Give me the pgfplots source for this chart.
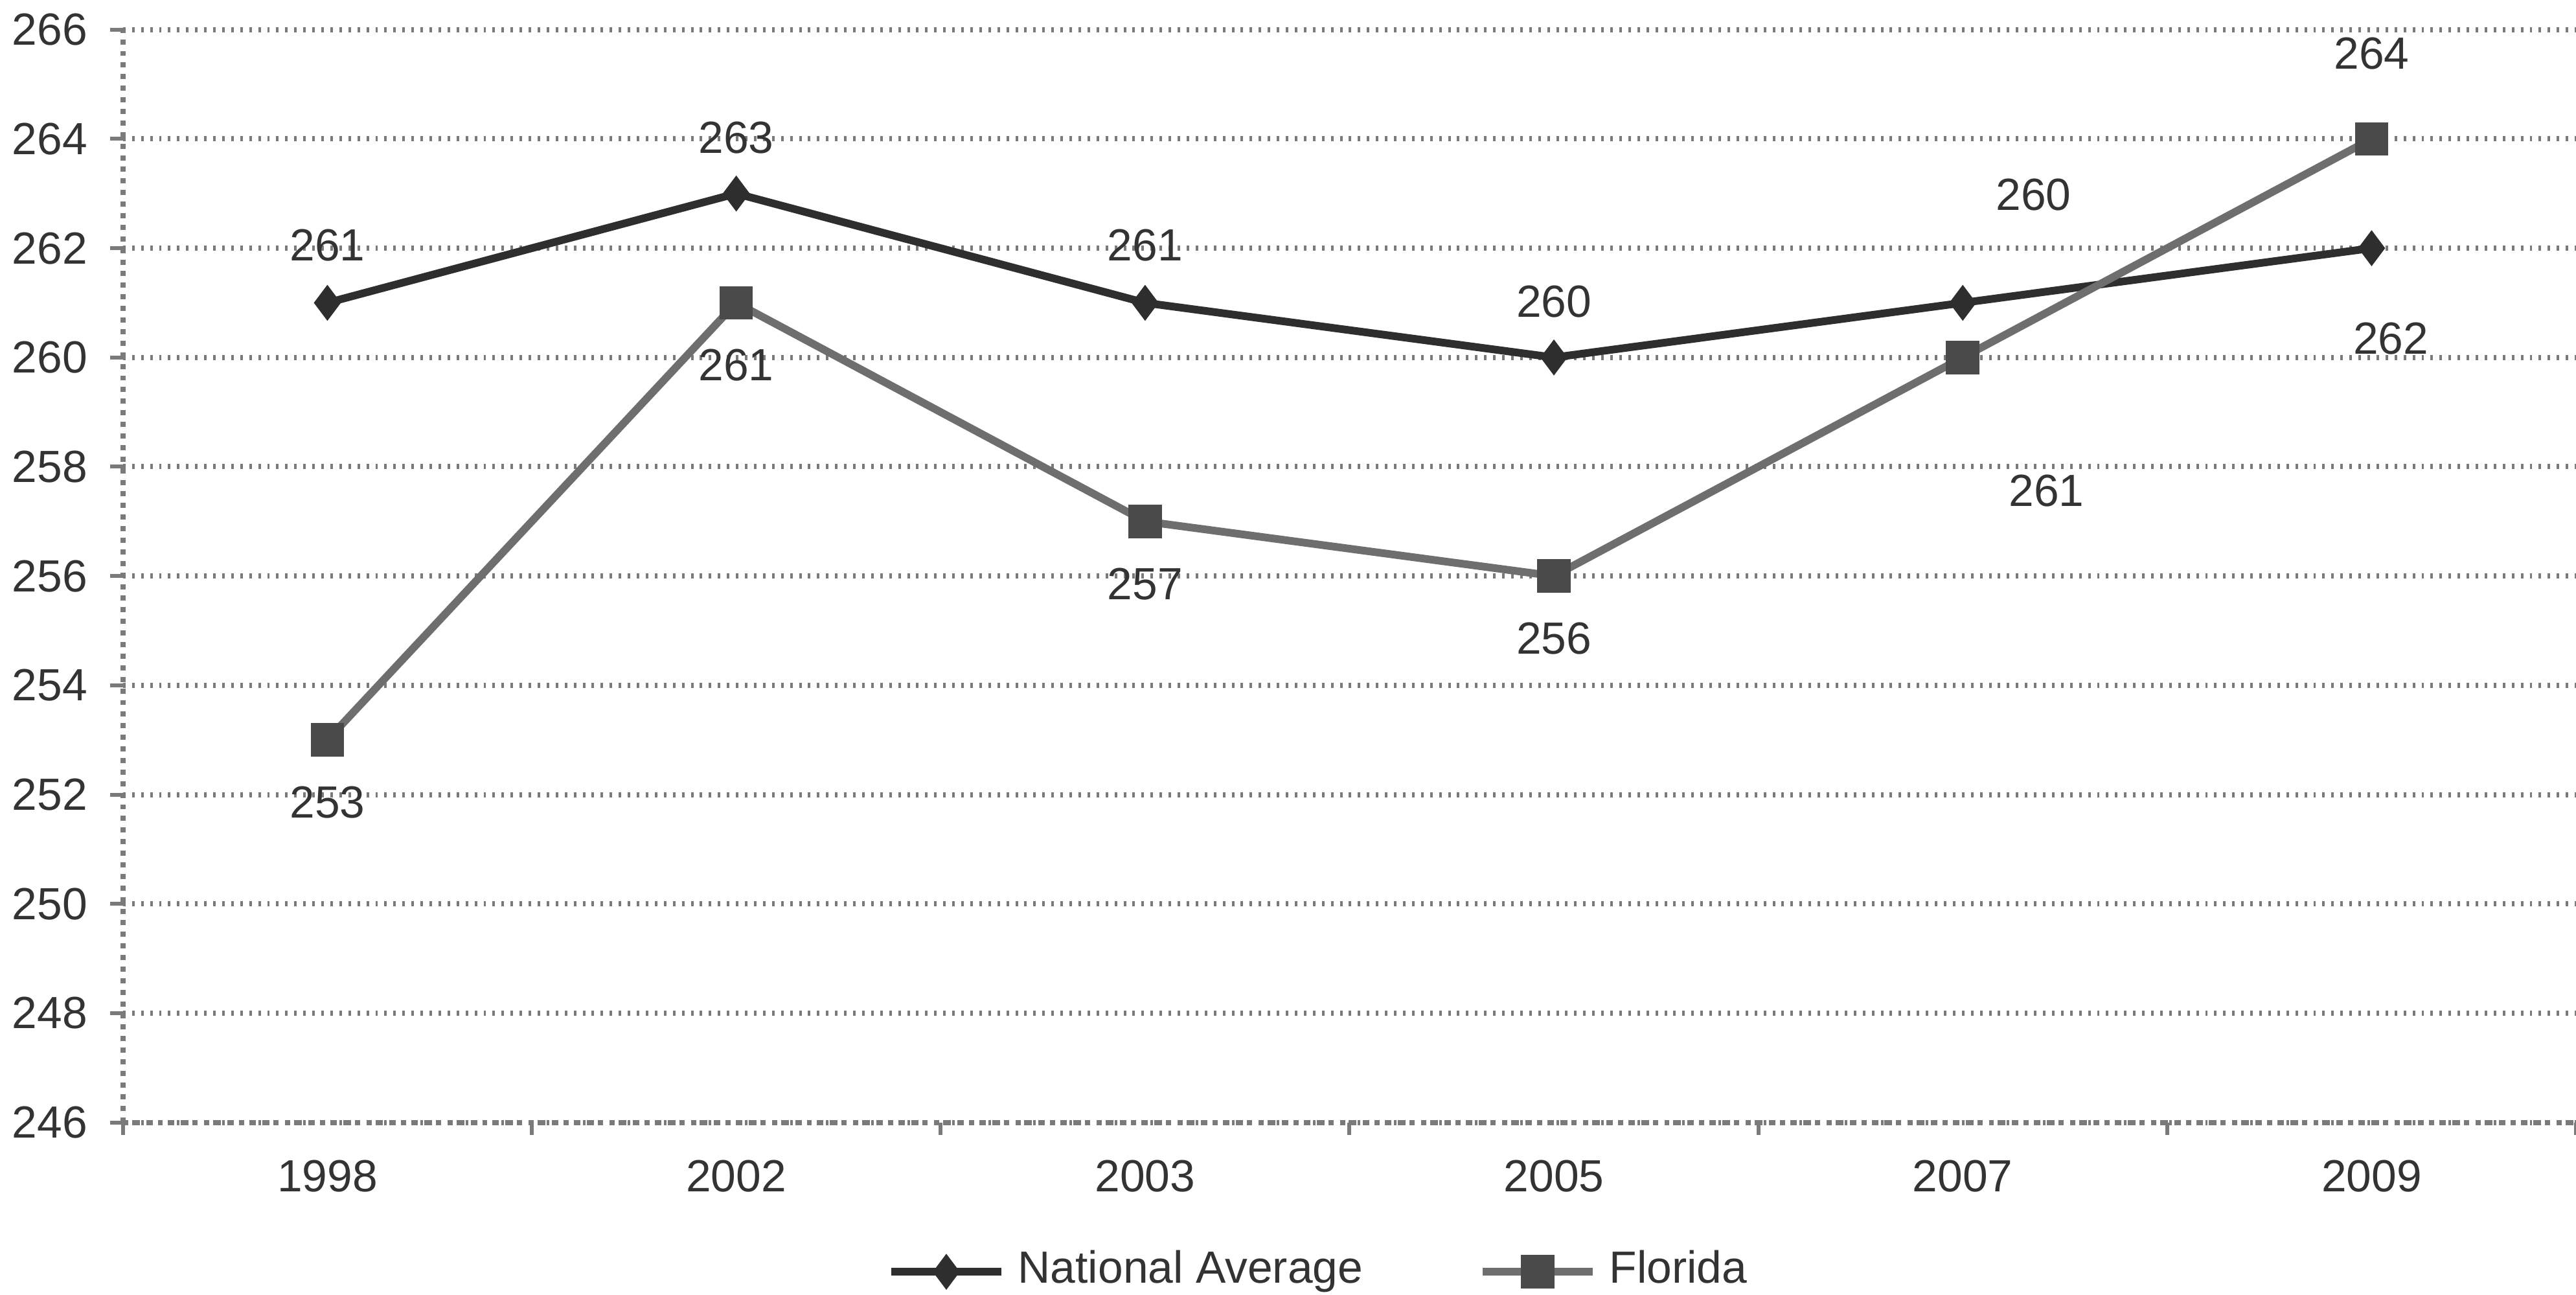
\documentclass[border=0pt]{standalone}
\usepackage{pgfplots}
\pgfplotsset{compat=1.18}
\usepackage{fontspec}
\setmainfont{Liberation Sans}
\definecolor{natc}{HTML}{2E2E2E}
\definecolor{flc}{HTML}{6E6E6E}
\definecolor{flm}{HTML}{4A4A4A}
\definecolor{grd}{HTML}{7A7A7A}
\definecolor{txt}{HTML}{333333}
\pgfplotstableread{
x y lab dx dy
0 261 261 0 8.9
1 263 263 0 8.7
2 261 261 0 8.9
3 260 260 0 8.7
4 261 260 11 16.8
5 262 262 3 -14
}\national
\pgfplotstableread{
x y lab dx dy
0 253 253 0 -9.7
1 261 261 0 -9.7
2 257 257 0 -9.7
3 256 256 0 -9.7
4 260 261 13 -20.7
5 264 264 0 13.3
}\florida
\begin{document}
\begin{tikzpicture}
\begin{axis}[
  scale only axis, width=381pt, height=169.7pt,
  xmin=-0.5, xmax=5.5, ymin=246, ymax=266,
  ytick={246,248,...,266},
  xtick={-0.5,0.5,...,5.5},
  x tick label as interval,
  xticklabels={1998,2002,2003,2005,2007,2009},
  /pgf/number format/assume math mode=true,
  axis x line*=bottom, axis y line*=left,
  axis line style={grd, densely dotted, line width=0.8pt, -},
  ymajorgrids, major grid style={grd, densely dotted, line width=0.8pt},
  tick align=outside, major tick length=2pt,
  tick style={grd, line width=0.6pt},
  tick label style={font=\fontsize{7}{8}\selectfont, text=txt},
  xticklabel style={yshift=-0.3pt},
  yticklabel style={xshift=0pt},
  legend style={draw=none, fill=none, at={(0.5,0)}, anchor=center, yshift=-23.2pt, xshift=-4pt,
    legend columns=2, font=\fontsize{7}{8}\selectfont, text=txt,
    /tikz/every even column/.append style={column sep=16pt}},
  clip=false,
]
\addplot[natc, line width=1.2pt, mark=diamond*, mark size=1.8pt, mark options={solid, fill=natc},
  nodes near coords, point meta=explicit symbolic,
  visualization depends on={\thisrow{dx}\as\dx},
  visualization depends on={\thisrow{dy}\as\dy},
  every node near coord/.append style={anchor=center, xshift=\dx pt, yshift=\dy pt,
    font=\fontsize{7}{8}\selectfont, text=txt}]
  table[x=x, y=y, meta=lab] {\national};
\addlegendentry{National Average}
\addplot[flc, line width=1.2pt, mark=square*, mark size=2pt, mark options={solid, fill=flm, draw=flm},
  nodes near coords, point meta=explicit symbolic,
  visualization depends on={\thisrow{dx}\as\dx},
  visualization depends on={\thisrow{dy}\as\dy},
  every node near coord/.append style={anchor=center, xshift=\dx pt, yshift=\dy pt,
    font=\fontsize{7}{8}\selectfont, text=txt}]
  table[x=x, y=y, meta=lab] {\florida};
\addlegendentry{Florida}
\coordinate (sw) at (rel axis cs:0,0);
\coordinate (ne) at (rel axis cs:1,1);
\end{axis}
\pgfresetboundingbox
\path[use as bounding box] ([xshift=-19.1pt,yshift=-26.8pt]sw) rectangle ([yshift=4.6pt]ne);
\end{tikzpicture}
\end{document}
